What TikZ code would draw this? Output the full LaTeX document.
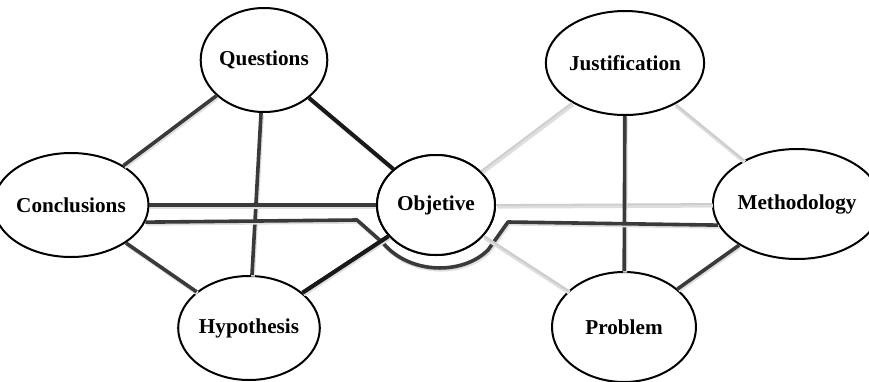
\documentclass[tikz,border=0pt]{standalone}
\usepackage{fontspec}
\setmainfont{Liberation Serif}
\usepackage{xcolor}
\usetikzlibrary{shapes.geometric}
\definecolor{DarkLine}{RGB}{58, 58, 58}
\definecolor{BlackLine}{RGB}{25, 25, 25}
\definecolor{LightLine}{RGB}{205, 205, 205}
\definecolor{Shade}{RGB}{222, 222, 222}

\tikzset{
  topic/.style={ellipse, draw=black, line width=1pt, fill=white, inner sep=0pt,
    font=\fontsize{10.6}{12}\selectfont\bfseries},
  shade/.style={preaction={draw=Shade, line width=2pt,
    transform canvas={shift={(0.5pt,-0.8pt)}}}},
  darkedge/.style={draw=DarkLine, line width=1.8pt, shade},
  blackedge/.style={draw=BlackLine, line width=2pt, shade},
  lightedge/.style={draw=LightLine, line width=0.9pt, shade}
}

\begin{document}
\begin{tikzpicture}[x=0.5pt, y=-0.5pt]
        \useasboundingbox (0,0) rectangle (869,381);

        % Left group
        \node[topic, minimum width=63pt, minimum height=52pt] (ques) at (264, 60) {Questions};
        \node[topic, minimum width=66pt, minimum height=52pt] (conc) at (71, 205) {Conclusions};
        \node[topic, minimum width=64pt, minimum height=52pt] (hypo) at (249, 328) {Hypothesis};

        % Centre
        \node[topic, minimum width=59pt, minimum height=50pt] (obj) at (436, 205) {Objetive};

        % Right group
        \node[topic, minimum width=67pt, minimum height=52pt] (just) at (625, 63) {Justification};
        \node[topic, minimum width=72pt, minimum height=55pt] (meth) at (797, 204) {Methodology};
        \node[topic, minimum width=72pt, minimum height=55pt] (prob) at (624, 327) {Problem};

        % Edges of the left group
        \draw[darkedge] (ques) -- (conc);
        \draw[darkedge] (ques) -- (hypo);
        \draw[blackedge] (ques) -- (obj);
        \draw[darkedge] (conc) -- (hypo);
        \draw[darkedge] (conc.east) -- (obj.west);
        \draw[blackedge] (hypo) -- (obj);

        % Edges of the right group
        \draw[lightedge] (obj) -- (just);
        \draw[lightedge] (obj.east) -- (meth.west);
        \draw[lightedge] (obj) -- (prob);
        \draw[lightedge] (just) -- (meth);
        \draw[darkedge] (just) -- (prob);
        \draw[darkedge] (prob) -- (meth);

        % Long link under Objetive
        \coordinate (bendL) at (357, 220);
        \coordinate (bendR) at (508, 222);
        \draw[darkedge, line join=round] (conc.-13) -- (bendL) -- (383, 243)
            .. controls (410, 275) and (463, 275) .. (488, 250) -- (bendR) -- (meth.195);

        % Redraw the centre on top of the link
        \node[topic, minimum width=59pt, minimum height=50pt] at (obj) {Objetive};
        \draw[blackedge] (hypo) -- (obj);
        \draw[lightedge] (obj) -- (prob);
    \end{tikzpicture}
\end{document}
